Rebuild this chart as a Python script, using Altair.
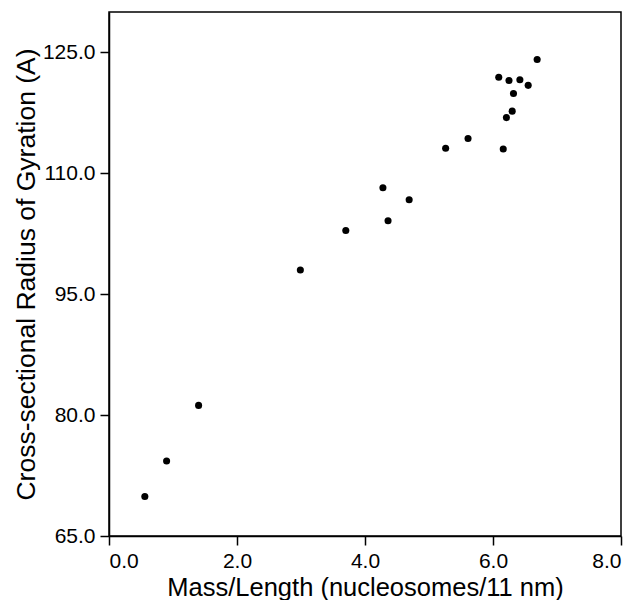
import altair as alt
import pandas as pd

mass_length = [0.56, 0.90, 1.40, 2.99, 3.70, 4.28, 4.36, 4.69, 5.26, 5.61,
               6.16, 6.09, 6.25, 6.42, 6.55, 6.32, 6.30, 6.21, 6.69]
radius = [69.9, 74.3, 81.2, 98.0, 102.9, 108.2, 104.1, 106.7, 113.1, 114.3,
          113.0, 121.9, 121.5, 121.6, 120.9, 119.9, 117.7, 116.9, 124.1]

x_ticks = [0, 2, 4, 6, 8]
y_ticks = [65, 80, 95, 110, 125]

df = pd.DataFrame({"x": mass_length, "y": radius})

FONT = "Liberation Sans"

chart = alt.Chart(df).mark_circle(size=50, color="black", opacity=1).encode(
    x=alt.X("x:Q",
            scale=alt.Scale(domain=[0, 8], nice=False, zero=False),
            axis=alt.Axis(values=x_ticks, format=".1f",
                          title="Mass/Length (nucleosomes/11 nm)",
                          titleFontSize=25.5,
                          titlePadding=4)),
    y=alt.Y("y:Q",
            scale=alt.Scale(domain=[65, 130], nice=False, zero=False),
            axis=alt.Axis(values=y_ticks, format=".1f",
                          title="Cross-sectional Radius of Gyration (A)",
                          titleFontSize=26.5,
                          titlePadding=2)),
).properties(
    width=512,
    height=524,
    autosize=alt.AutoSizeParams(type="none"),
    padding={"left": 101, "top": 4, "right": 14, "bottom": 64},
).configure_view(
    stroke="black", strokeWidth=1.5
).configure_axis(
    grid=False,
    domainColor="black",
    domainWidth=1.5,
    tickColor="black",
    tickWidth=1.5,
    tickSize=9,
    labelFont=FONT,
    labelFontSize=21,
    labelColor="black",
    labelPadding=5,
    titleFont=FONT,
    titleFontWeight="normal",
    titleColor="black",
)

chart.save("out.html", embed_options={"renderer": "svg", "actions": False})
